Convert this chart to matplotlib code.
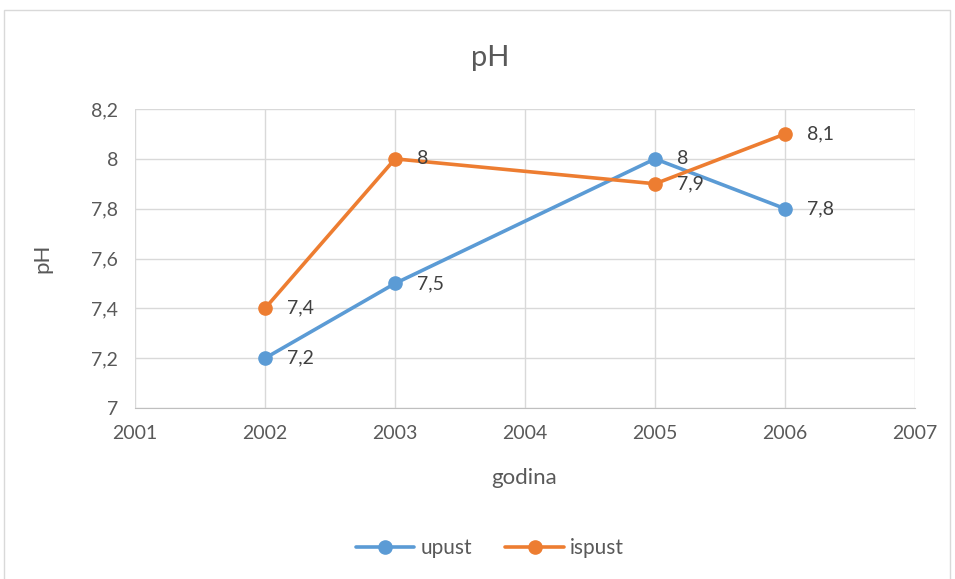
import matplotlib
matplotlib.use("Agg")
import matplotlib.pyplot as plt
from matplotlib.patches import Rectangle
from matplotlib.ticker import FuncFormatter

# data
years_upust = [2002, 2003, 2005, 2006]
ph_upust = [7.2, 7.5, 8.0, 7.8]
years_ispust = [2002, 2003, 2005, 2006]
ph_ispust = [7.4, 8.0, 7.9, 8.1]

blue = "#5b9bd5"
orange = "#ed7d31"
grey_text = "#595959"
grid_col = "#d9d9d9"

plt.rcParams["font.family"] = ["Lato", "DejaVu Sans"]

fig = plt.figure(figsize=(9.55, 5.79), dpi=100)
ax = fig.add_axes([0.1414, 0.2953, 0.8168, 0.5164])

# chart area border
fig.patches.append(Rectangle((4 / 955, -0.05), 946 / 955, 1 - 10 / 579 + 0.05,
                             transform=fig.transFigure, fill=False,
                             edgecolor="#d9d9d9", linewidth=1.0))


def comma(v, pos):
    s = ("%.1f" % v).rstrip("0").rstrip(".")
    return s.replace(".", ",")


ax.plot(years_upust, ph_upust, color=blue, lw=2.6, marker="o", ms=9.5,
        label="upust", solid_capstyle="round", zorder=3)
ax.plot(years_ispust, ph_ispust, color=orange, lw=2.6, marker="o", ms=9.5,
        label="ispust", solid_capstyle="round", zorder=3)

for xs, ys in [(years_upust, ph_upust), (years_ispust, ph_ispust)]:
    for x, y in zip(xs, ys):
        ax.annotate(comma(y, None), (x, y), xytext=(16, 0),
                    textcoords="offset points", va="center", ha="left",
                    fontsize=14, color="#404040")

ax.set_xlim(2001, 2007)
ax.set_ylim(7, 8.2)
ax.set_xticks(range(2001, 2008))
ax.set_yticks([7, 7.2, 7.4, 7.6, 7.8, 8.0, 8.2])
ax.yaxis.set_major_formatter(FuncFormatter(comma))
ax.grid(True, color=grid_col, lw=1.0)
ax.set_axisbelow(True)
for side in ["left", "right", "top"]:
    ax.spines[side].set_visible(False)
ax.spines["bottom"].set_color("#bfbfbf")
ax.tick_params(length=0, labelsize=14, colors=grey_text, pad=12)

fig.text(490 / 955, 1 - 58 / 579, "pH", fontsize=21, color=grey_text,
         ha="center", va="center")
fig.text(524 / 955, 1 - 478 / 579, "godina", fontsize=16, color=grey_text,
         ha="center", va="center")
fig.text(42 / 955, 1 - 258 / 579, "pH", fontsize=16, color=grey_text,
         ha="center", va="center", rotation=90)

fig.legend(loc="center", bbox_to_anchor=(490 / 955, 1 - 548 / 579), ncol=2,
           frameon=False, fontsize=15, labelcolor=grey_text,
           handlelength=2.8, columnspacing=1.6, handletextpad=0.3)

fig.savefig("out.png", dpi=100)
